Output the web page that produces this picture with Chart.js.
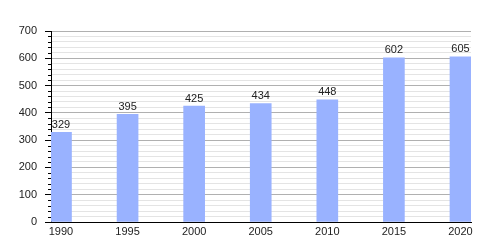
<!DOCTYPE html>
<html>
<head>
  <meta charset="UTF-8">
  <title>Population</title>
  <script src="https://cdn.jsdelivr.net/npm/chart.js"></script>
  <style>
    html, body { margin: 0; padding: 0; background: #fff; }
    #wrap { width: 500px; height: 250px; }
  </style>
</head>
<body>
  <div id="wrap"><canvas id="chart"></canvas></div>

  <script>
    // values
    const years = [1990, 1995, 2000, 2005, 2010, 2015, 2020];
    const population = [329, 395, 425, 434, 448, 602, 605];
    const yTicks = [0, 100, 200, 300, 400, 500, 600, 700];

    const barColor = '#99b2ff';
    const textColor = '#222';

    // value labels above each bar + short minor ticks on the y axis
    const extras = {
      id: 'extras',
      afterDatasetsDraw(chart) {
        const ctx = chart.ctx;
        const meta = chart.getDatasetMeta(0);
        ctx.save();
        ctx.font = '11px "Liberation Sans", Arial, sans-serif';
        ctx.fillStyle = textColor;
        ctx.textAlign = 'center';
        ctx.textBaseline = 'bottom';
        meta.data.forEach((bar, i) => {
          ctx.fillText(String(population[i]), bar.x, bar.y - 2);
        });

        const y = chart.scales.y;
        ctx.strokeStyle = '#000';
        ctx.lineWidth = 1;
        y.ticks.forEach(t => {
          if (t.value % 100 === 0) return;
          const py = Math.round(y.getPixelForValue(t.value)) + 0.5;
          ctx.beginPath();
          ctx.moveTo(y.right - 3, py);
          ctx.lineTo(y.right, py);
          ctx.stroke();
        });
        ctx.restore();
      }
    };

    new Chart(document.getElementById('chart'), {
      type: 'bar',
      data: {
        datasets: [{
          data: years.map((yr, i) => ({ x: yr, y: population[i] })),
          backgroundColor: barColor,
          borderWidth: 0,
          barThickness: 21
        }]
      },
      options: {
        responsive: true,
        maintainAspectRatio: false,
        animation: false,
        layout: { padding: { top: 31, right: 29, left: 0, bottom: 0 } },
        plugins: { legend: { display: false }, tooltip: { enabled: false } },
        scales: {
          x: {
            type: 'linear',
            offset: false,
            min: 1989.25,
            max: 2020.79,
            afterBuildTicks: s => { s.ticks = years.map(v => ({ value: v })); },
            afterFit: s => { s.height = 28; },
            grid: { display: false, drawTicks: false },
            border: { display: true, color: '#000', width: 1 },
            ticks: {
              padding: 3,
              color: textColor,
              font: { family: '"Liberation Sans", Arial, sans-serif', size: 11 },
              callback: v => String(v),
              maxRotation: 0,
              autoSkip: false
            }
          },
          y: {
            min: 0,
            max: 700,
            afterFit: s => { s.width = 51; },
            border: { display: true, color: '#000', width: 1 },
            grid: {
              color: c => c.tick.value % 100 === 0 ? '#b0b0b0' : '#e4e4e4',
              tickColor: c => c.tick.value % 100 === 0 ? '#000' : 'transparent',
              tickLength: 6
            },
            ticks: {
              stepSize: 20,
              autoSkip: false,
              padding: 8,
              color: textColor,
              font: { family: '"Liberation Sans", Arial, sans-serif', size: 11 },
              callback: v => yTicks.includes(v) ? String(v) : ''
            }
          }
        }
      },
      plugins: [extras]
    });
  </script>
</body>
</html>
